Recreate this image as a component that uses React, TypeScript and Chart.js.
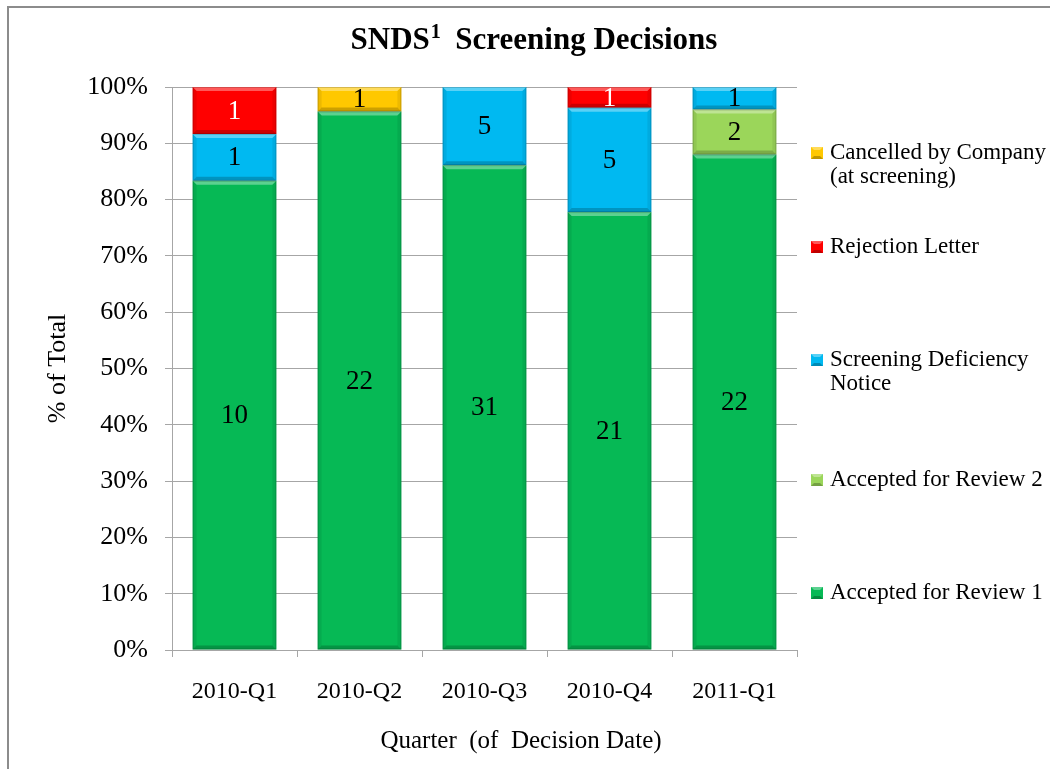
import React, { useEffect, useRef } from "react";
import { Chart, registerables } from "chart.js";

Chart.register(...registerables);

const quarters = ["2010-Q1", "2010-Q2", "2010-Q3", "2010-Q4", "2011-Q1"];
const accepted1 = [10, 22, 31, 21, 22];
const accepted2 = [0, 0, 0, 0, 2];
const deficiency = [1, 0, 5, 5, 1];
const rejection = [1, 0, 0, 1, 0];
const cancelled = [0, 1, 0, 0, 0];
const yTicks = [0, 10, 20, 30, 40, 50, 60, 70, 80, 90, 100];

const seriesCounts = [accepted1, accepted2, deficiency, rejection, cancelled];
const seriesNames = [
  "Accepted for Review 1",
  "Accepted for Review 2",
  "Screening Deficiency Notice",
  "Rejection Letter",
  "Cancelled by Company (at screening)",
];
const seriesColors = ["#06B955", "#9BD65A", "#00B9F1", "#FF0000", "#FFC800"];
const labelColors = ["#000", "#000", "#000", "#fff", "#000"];

const totals = quarters.map((_, i) =>
  seriesCounts.reduce((s, arr) => s + arr[i], 0)
);

const FONT = '"Liberation Serif", "Times New Roman", serif';
const GRID = "#a6a6a6";

export default function App() {
  const ref = useRef<HTMLCanvasElement | null>(null);

  useEffect(() => {
    const canvas = ref.current;
    if (!canvas) return;

    const decorPlugin = {
      id: "decor",
      beforeDraw(chart: any) {
        const ctx = chart.ctx;
        ctx.save();
        ctx.fillStyle = "#ffffff";
        ctx.fillRect(0, 0, chart.width, chart.height);
        ctx.fillStyle = "#8c8c8c";
        ctx.fillRect(0, 0, chart.width, 2);
        ctx.fillRect(0, 0, 2, chart.height);
        ctx.restore();
      },
      afterDatasetsDraw(chart: any) {
        const ctx = chart.ctx;
        ctx.save();
        // bevel effect
        chart.data.datasets.forEach((ds: any, di: number) => {
          const meta = chart.getDatasetMeta(di);
          meta.data.forEach((el: any, i: number) => {
            if (!seriesCounts[di][i]) return;
            const x0 = el.x - el.width / 2;
            const x1 = el.x + el.width / 2;
            const top = Math.min(el.y, el.base);
            const bot = Math.max(el.y, el.base);
            const b = Math.min(4, (bot - top) / 3);
            ctx.fillStyle = "rgba(255,255,255,0.35)";
            ctx.beginPath();
            ctx.moveTo(x0, top);
            ctx.lineTo(x1, top);
            ctx.lineTo(x1 - b, top + b);
            ctx.lineTo(x0 + b, top + b);
            ctx.closePath();
            ctx.fill();
            ctx.fillStyle = "rgba(0,0,0,0.2)";
            ctx.beginPath();
            ctx.moveTo(x0, bot);
            ctx.lineTo(x1, bot);
            ctx.lineTo(x1 - b, bot - b);
            ctx.lineTo(x0 + b, bot - b);
            ctx.closePath();
            ctx.fill();
            ctx.fillStyle = "rgba(0,0,0,0.07)";
            ctx.beginPath();
            ctx.moveTo(x0, top);
            ctx.lineTo(x0 + b, top + b);
            ctx.lineTo(x0 + b, bot - b);
            ctx.lineTo(x0, bot);
            ctx.closePath();
            ctx.fill();
            ctx.beginPath();
            ctx.moveTo(x1, top);
            ctx.lineTo(x1 - b, top + b);
            ctx.lineTo(x1 - b, bot - b);
            ctx.lineTo(x1, bot);
            ctx.closePath();
            ctx.fill();
            ctx.strokeStyle = "rgba(0,0,0,0.16)";
            ctx.lineWidth = 1;
            ctx.strokeRect(x0 + 0.5, top + 0.5, el.width - 1, bot - top - 1);
          });
        });
        // data labels
        ctx.font = `27px ${FONT}`;
        ctx.textAlign = "center";
        ctx.textBaseline = "middle";
        chart.data.datasets.forEach((ds: any, di: number) => {
          const meta = chart.getDatasetMeta(di);
          meta.data.forEach((el: any, i: number) => {
            const c = seriesCounts[di][i];
            if (!c) return;
            ctx.fillStyle = labelColors[di];
            ctx.fillText(String(c), el.x, (el.y + el.base) / 2 + 1);
          });
        });
        ctx.restore();
      },
      afterDraw(chart: any) {
        const ctx = chart.ctx;
        const area = chart.chartArea;
        ctx.save();
        ctx.fillStyle = "#000";
        // title
        const t1 = "SNDS";
        const sup = "1";
        const t2 = "  Screening Decisions";
        ctx.font = `bold 31px ${FONT}`;
        const w1 = ctx.measureText(t1).width;
        const w3 = ctx.measureText(t2).width;
        ctx.font = `bold 20px ${FONT}`;
        const w2 = ctx.measureText(sup).width;
        const total = w1 + w2 + w3;
        const cx = 527;
        const ty = 43;
        let x = cx - total / 2;
        ctx.textAlign = "left";
        ctx.textBaseline = "alphabetic";
        ctx.font = `bold 31px ${FONT}`;
        ctx.fillText(t1, x, ty);
        x += w1;
        ctx.font = `bold 20px ${FONT}`;
        ctx.fillText(sup, x + 1, ty - 11);
        x += w2;
        ctx.font = `bold 31px ${FONT}`;
        ctx.fillText(t2, x, ty);

        // axis titles
        ctx.font = `25px ${FONT}`;
        ctx.textAlign = "center";
        ctx.textBaseline = "middle";
        ctx.fillText("Quarter  (of  Decision Date)", 514, 735);
        ctx.save();
        ctx.font = `26px ${FONT}`;
        ctx.translate(51, (area.top + area.bottom) / 2);
        ctx.rotate(-Math.PI / 2);
        ctx.fillText("% of Total", 0, 0);
        ctx.restore();

        // legend
        const entries = [
          { s: 4, lines: ["Cancelled by Company", "(at screening)"], y: 147 },
          { s: 3, lines: ["Rejection Letter"], y: 241 },
          { s: 2, lines: ["Screening Deficiency", "Notice"], y: 354 },
          { s: 1, lines: ["Accepted for Review 2"], y: 474 },
          { s: 0, lines: ["Accepted for Review 1"], y: 587 },
        ];
        ctx.font = `23px ${FONT}`;
        ctx.textAlign = "left";
        ctx.textBaseline = "middle";
        entries.forEach((e) => {
          const mx = 804;
          const my = e.y - 6;
          const ms = 12;
          ctx.fillStyle = seriesColors[e.s];
          ctx.fillRect(mx, my, ms, ms);
          ctx.fillStyle = "rgba(255,255,255,0.35)";
          ctx.beginPath();
          ctx.moveTo(mx, my);
          ctx.lineTo(mx + ms, my);
          ctx.lineTo(mx + ms - 3, my + 3);
          ctx.lineTo(mx + 3, my + 3);
          ctx.closePath();
          ctx.fill();
          ctx.fillStyle = "rgba(0,0,0,0.25)";
          ctx.beginPath();
          ctx.moveTo(mx, my + ms);
          ctx.lineTo(mx + ms, my + ms);
          ctx.lineTo(mx + ms - 3, my + ms - 3);
          ctx.lineTo(mx + 3, my + ms - 3);
          ctx.closePath();
          ctx.fill();
          ctx.fillStyle = "#000";
          e.lines.forEach((ln, li) => {
            ctx.fillText(ln, 823, e.y + li * 24);
          });
        });
        ctx.restore();
      },
    };

    const chart = new Chart(canvas, {
      type: "bar",
      data: {
        labels: quarters,
        datasets: seriesCounts.map((arr, si) => ({
          label: seriesNames[si],
          data: arr.map((v, i) => (v / totals[i]) * 100),
          backgroundColor: seriesColors[si],
          borderWidth: 0,
          barPercentage: 0.67,
          categoryPercentage: 1,
        })),
      },
      options: {
        responsive: false,
        animation: false,
        layout: { padding: { top: 81, right: 253, left: 0, bottom: 0 } },
        plugins: {
          legend: { display: false },
          title: { display: false },
          tooltip: { enabled: false },
        },
        scales: {
          x: {
            stacked: true,
            afterFit(scale: any) {
              scale.height = 119;
            },
            grid: {
              display: true,
              drawOnChartArea: false,
              drawTicks: true,
              tickLength: 7,
              color: GRID,
              offset: true,
            },
            border: { display: true, color: GRID, width: 1 },
            ticks: {
              color: "#000",
              font: { family: FONT, size: 24 },
              padding: 20,
              maxRotation: 0,
            },
          },
          y: {
            stacked: true,
            min: 0,
            max: 100,
            afterFit(scale: any) {
              scale.width = 165;
            },
            afterBuildTicks(scale: any) {
              scale.ticks = yTicks.map((v) => ({ value: v }));
            },
            grid: {
              color: GRID,
              drawTicks: true,
              tickLength: 7,
            },
            border: { display: true, color: GRID, width: 1 },
            ticks: {
              color: "#000",
              font: { family: FONT, size: 26 },
              padding: 17,
              callback: (v: any) => `${v}%`,
            },
          },
        },
      },
      plugins: [decorPlugin],
    });

    return () => chart.destroy();
  }, []);

  return (
    <div style={{ position: "fixed", left: 7, top: 6, width: 1043, height: 763 }}>
      <canvas ref={ref} width={1043} height={763} style={{ display: "block" }} />
    </div>
  );
}
